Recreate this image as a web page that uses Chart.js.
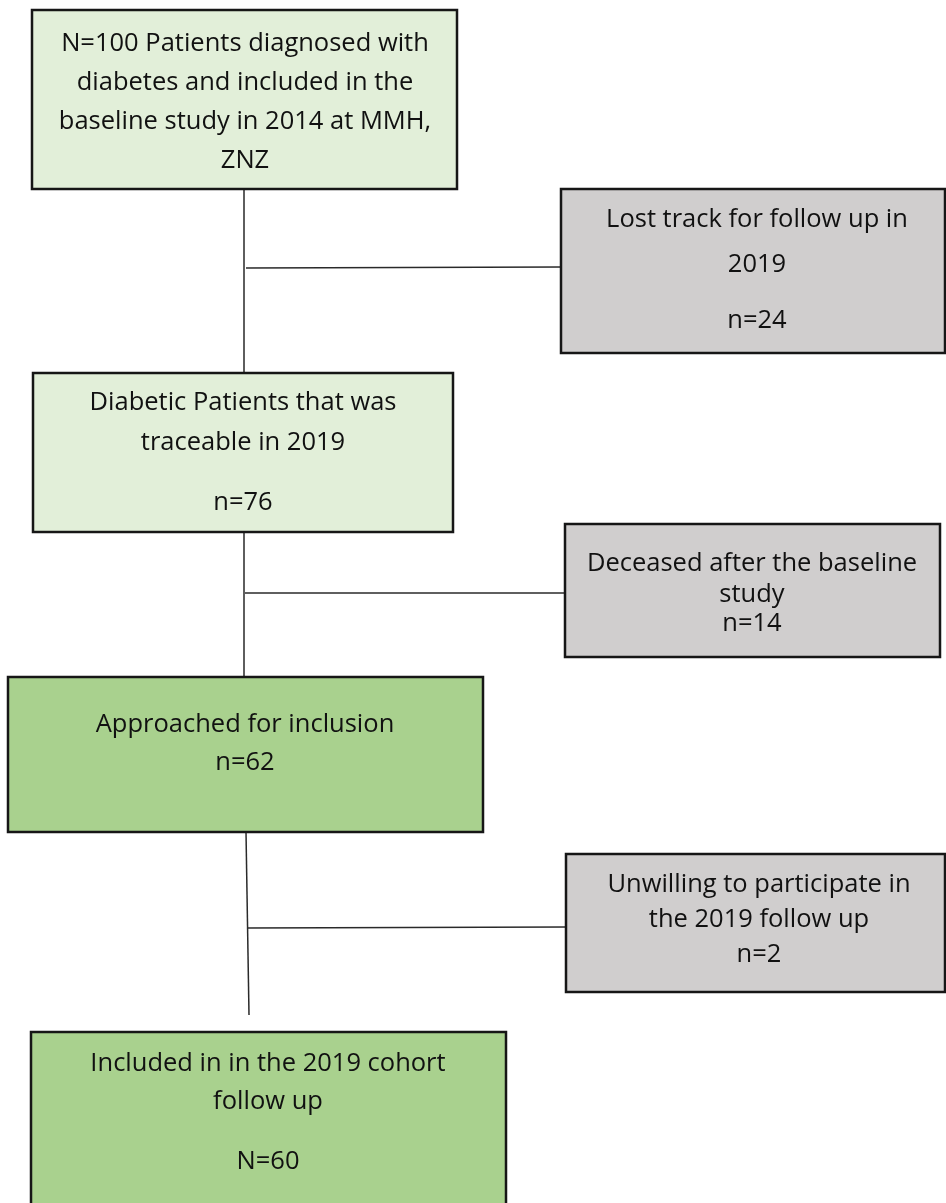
<!DOCTYPE html>
<html>
<head>
<meta charset="utf-8">
<script src="https://cdn.jsdelivr.net/npm/chart.js@4.4.1/dist/chart.umd.min.js"></script>
<style>
  html, body { margin: 0; padding: 0; background: #ffffff; }
  #wrap { width: 946px; height: 1203px; }
</style>
</head>
<body>
<div id="wrap"><canvas id="c" width="946" height="1203"></canvas></div>
<script>
// ---- Data ----
const stageNames = [
  "Baseline 2014",
  "Lost to follow up",
  "Traceable 2019",
  "Deceased",
  "Approached",
  "Unwilling",
  "Included 2019"
];
const stageCounts = [100, 24, 76, 14, 62, 2, 60];
const stageText = [
  ["N=100 Patients diagnosed with", "diabetes and included in the", "baseline study in 2014 at MMH,", "ZNZ"],
  ["Lost track for follow up in", "2019", "n=24"],
  ["Diabetic Patients that was", "traceable in 2019", "n=76"],
  ["Deceased after the baseline", "study", "n=14"],
  ["Approached for inclusion", "n=62"],
  ["Unwilling to participate in", "the 2019 follow up", "n=2"],
  ["Included in in the 2019 cohort", "follow up", "N=60"]
];
const stageKind = ["start", "exclude", "start", "exclude", "main", "exclude", "main"];

// ---- Layout (positions in the page's coordinate space, used through the scales) ----
const boxRects = [ // [left, top, right, bottom]
  [32, 10, 457, 189],
  [561, 189, 945, 353],
  [33, 373, 453, 532],
  [565, 524, 940, 657],
  [8, 677, 483, 832],
  [566, 854, 945, 992],
  [31, 1032, 506, 1220]
];
const textCenterX = [245, 757, 243, 752, 245, 759, 268];
const textLineY = [
  [44, 83, 122, 161],
  [220, 265, 321],
  [403, 443, 503],
  [564, 595, 624],
  [725, 763],
  [885, 920, 955],
  [1064, 1102, 1162]
];
const connectors = [
  [[244, 189], [244, 373]],
  [[246, 268], [561, 267]],
  [[244, 532], [244, 677]],
  [[245, 593], [565, 593]],
  [[246, 832], [249, 1015]],
  [[247, 928], [566, 927]]
];
const fillByKind = { start: "#e2efd9", exclude: "#d0cece", main: "#a9d18e" };

const boxPlugin = {
  id: "flowBoxes",
  afterDatasetsDraw(chart) {
    const ctx = chart.ctx;
    const xs = chart.scales.x, ys = chart.scales.y;
    ctx.save();
    boxRects.forEach((r, i) => {
      const x0 = xs.getPixelForValue(r[0]), x1 = xs.getPixelForValue(r[2]);
      const y0 = ys.getPixelForValue(r[1]), y1 = ys.getPixelForValue(r[3]);
      ctx.fillStyle = fillByKind[stageKind[i]];
      ctx.fillRect(x0, y0, x1 - x0, y1 - y0);
      ctx.lineWidth = 2.5;
      ctx.strokeStyle = "#161616";
      ctx.strokeRect(x0, y0, x1 - x0, y1 - y0);
      ctx.fillStyle = "#111111";
      ctx.font = "25.5px 'Open Sans', 'Noto Sans', sans-serif";
      ctx.textAlign = "center";
      ctx.textBaseline = "middle";
      stageText[i].forEach((line, j) => {
        ctx.fillText(line, xs.getPixelForValue(textCenterX[i]), ys.getPixelForValue(textLineY[i][j]));
      });
    });
    ctx.restore();
  }
};

const datasets = connectors.map((seg, i) => ({
  label: "link" + i,
  data: seg.map(p => ({ x: p[0], y: p[1] })),
  showLine: true,
  borderColor: "#2a2a2a",
  borderWidth: 1.5,
  pointRadius: 0,
  fill: false
}));

new Chart(document.getElementById("c"), {
  type: "scatter",
  data: { datasets },
  options: {
    responsive: false,
    animation: false,
    layout: { padding: 0 },
    plugins: { legend: { display: false }, tooltip: { enabled: false } },
    scales: {
      x: { type: "linear", min: 0, max: 946, display: false },
      y: { type: "linear", min: 0, max: 1203, reverse: true, display: false }
    }
  },
  plugins: [boxPlugin]
});
</script>
</body>
</html>
